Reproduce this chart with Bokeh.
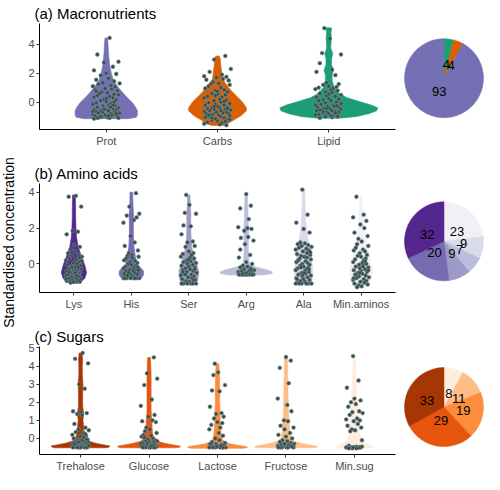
import math
from bokeh.plotting import figure
from bokeh.layouts import row, column
from bokeh.models import Range1d, FixedTicker
from bokeh.embed import file_html
from bokeh.resources import INLINE
from bokeh.core.properties import value

FONT = "Liberation Sans"

# ---------------- data: panel (a) macronutrients ----------------
MACRO_CATS = ["Prot", "Carbs", "Lipid"]
MACRO_COLORS = ["#7570B3", "#D95F02", "#1B9E77"]
MACRO_PIE_CATS = ["Lipid", "Carbs", "Prot"]          # clockwise from 12 o'clock
MACRO_PIE_VALUES = [4, 4, 93]

PROT_LV = [-1.15, -1.05, -0.9, -0.6, -0.3, 0.0, 0.3, 0.6, 1.0, 1.5, 2.0, 2.6, 3.2, 3.7, 4.2, 4.45]
PROT_HW = [0.2, 0.27, 0.28, 0.28, 0.26, 0.23, 0.19, 0.155, 0.11, 0.065, 0.045, 0.03, 0.022, 0.018, 0.015, 0.01]
PROT_Y = [4.45, 3.3, 2.8, 2.75, 2.45, 2.2, 2.0, 1.95, 1.85, 1.65, 1.55, 1.45, 1.35, 1.3, 1.25,
          1.15, 1.1, 1.05, 0.95, 0.9, 0.85, 0.8, 0.7, 0.65, 0.6, 0.5, 0.45, 0.4, 0.35, 0.3, 0.2,
          0.15, 0.1, 0.05, 0.0, -0.05, -0.1, -0.15, -0.2, -0.25, -0.25, -0.3, -0.35, -0.4, -0.4,
          -0.45, -0.5, -0.5, -0.55, -0.6, -0.6, -0.65, -0.7, -0.7, -0.75, -0.75, -0.8, -0.85,
          -0.85, -0.9, -0.9, -0.95, -1.0, -1.0, -1.05, -1.05, -1.1, -1.1, -1.1, -1.15, -0.2, -0.5,
          -0.8, -1.0, 0.25, 0.55, 0.75, -0.35, -0.65, -0.95]

CARBS_LV = [-1.62, -1.55, -1.3, -0.95, -0.6, -0.4, 0.05, 0.5, 1.0, 1.6, 2.5, 3.0, 3.2]
CARBS_HW = [0.05, 0.08, 0.135, 0.21, 0.26, 0.26, 0.22, 0.16, 0.10, 0.045, 0.03, 0.025, 0.015]
CARBS_Y = [3.2, 2.95, 2.3, 2.1, 1.9, 1.8, 1.75, 1.7, 1.6, 1.55, 1.5, 1.4, 1.3, 1.25, 1.2, 1.1,
           1.0, 0.95, 0.85, 0.8, 0.7, 0.6, 0.55, 0.5, 0.4, 0.35, 0.3, 0.2, 0.15, 0.1, 0.0, -0.05,
           -0.1, -0.15, -0.2, -0.25, -0.3, -0.35, -0.4, -0.4, -0.45, -0.5, -0.5, -0.55, -0.6,
           -0.6, -0.65, -0.7, -0.7, -0.75, -0.8, -0.8, -0.85, -0.9, -0.9, -0.95, -1.0, -1.0,
           -1.05, -1.1, -1.15, -1.2, -1.25, -1.3, -1.35, -1.4, -1.45, -1.5, -1.55, -1.6, -0.3,
           -0.6, -0.9, -1.2, 0.45, 0.05, -0.2, 0.75, -0.45, -1.1]

LIPID_LV = [-1.12, -1.0, -0.8, -0.6, -0.4, -0.2, 0.0, 0.3, 0.6, 1.0, 1.5, 1.85, 2.2, 2.6, 3.0,
            3.35, 3.75, 4.1, 4.45, 4.8, 5.1, 5.15]
LIPID_HW = [0.1, 0.25, 0.36, 0.43, 0.44, 0.38, 0.29, 0.165, 0.095, 0.05, 0.03, 0.03, 0.042,
            0.025, 0.025, 0.036, 0.018, 0.02, 0.024, 0.02, 0.026, 0.02]
LIPID_Y = [5.13, 4.4, 3.4, 3.3, 2.7, 2.25, 2.1, 1.87, 1.35, 1.25, 1.2, 1.1, 1.05, 1.0, 0.95,
           0.9, 0.85, 0.8, 0.7, 0.65, 0.6, 0.5, 0.45, 0.4, 0.3, 0.25, 0.2, 0.15, 0.1, 0.05, 0.0,
           -0.05, -0.1, -0.15, -0.2, -0.2, -0.25, -0.3, -0.3, -0.35, -0.4, -0.4, -0.45, -0.5,
           -0.5, -0.55, -0.6, -0.6, -0.65, -0.7, -0.7, -0.75, -0.8, -0.8, -0.85, -0.9, -0.9,
           -0.95, -1.0, -1.0, -1.05, -1.1, -0.1, -0.45, -0.75, 0.35, 0.55, -0.35, -0.65, -0.95,
           0.1, -0.25]

# ---------------- data: panel (b) amino acids ----------------
AMINO_CATS = ["Lys", "His", "Ser", "Arg", "Ala", "Min.aminos"]
AMINO_COLORS = ["#54278F", "#756BB1", "#9E9AC8", "#BCBDDC", "#DADAEB", "#F2F0F7"]
AMINO_PIE_CATS = ["Min.aminos", "Ala", "Arg", "Ser", "His", "Lys"]
AMINO_PIE_VALUES = [23, 9, 7, 9, 20, 32]

LYS_LV = [-1.09, -1.0, -0.8, -0.5, -0.2, 0.0, 0.3, 0.6, 1.0, 1.5, 2.0, 2.6, 3.2, 3.85]
LYS_HW = [0.06, 0.13, 0.19, 0.22, 0.2, 0.18, 0.145, 0.11, 0.07, 0.045, 0.035, 0.03, 0.028, 0.025]
LYS_Y = [3.8, 3.75, 3.2, 1.85, 1.8, 1.65, 1.05, 0.95, 0.8, 0.7, 0.6, 0.5, 0.45, 0.4, 0.3, 0.25,
         0.2, 0.1, 0.05, 0.0, -0.05, -0.1, -0.15, -0.2, -0.25, -0.3, -0.3, -0.35, -0.4, -0.4,
         -0.45, -0.5, -0.5, -0.55, -0.55, -0.6, -0.6, -0.65, -0.7, -0.7, -0.75, -0.8, -0.8,
         -0.85, -0.9, -0.9, -0.95, -1.0, -1.0, -1.05, -0.5, -0.6, -0.7, -0.2, 0.15, -0.45,
         -0.65, -0.85, 0.35, -1.0]

HIS_LV = [-0.8, -0.7, -0.55, -0.4, -0.25, -0.1, 0.0, 0.4, 0.95, 1.6, 2.3, 2.7, 3.2, 3.6, 4.0]
HIS_HW = [0.16, 0.2, 0.215, 0.21, 0.17, 0.12, 0.1, 0.07, 0.045, 0.035, 0.035, 0.04, 0.03, 0.025, 0.025]
HIS_Y = [3.95, 3.2, 2.8, 2.7, 2.45, 2.3, 2.6, 1.55, 1.2, 1.0, 0.75, 0.6, 0.5, 0.45, 0.4, 0.3,
         0.25, 0.2, 0.15, 0.1, 0.05, 0.0, -0.05, -0.1, -0.15, -0.2, -0.25, -0.3, -0.3, -0.35,
         -0.4, -0.4, -0.45, -0.5, -0.5, -0.55, -0.6, -0.6, -0.65, -0.7, -0.7, -0.75, -0.75,
         -0.8, -0.8, -0.8, -0.8, -0.8, -0.8, -0.8, -0.8, -0.2, -0.5, 0.35, -0.65, -0.35]

SER_LV = [-1.12, -0.9, -0.6, -0.4, -0.2, 0.0, 0.25, 0.5, 0.95, 1.5, 2.0, 2.8, 3.4, 3.85]
SER_HW = [0.11, 0.155, 0.17, 0.17, 0.155, 0.135, 0.11, 0.085, 0.05, 0.04, 0.035, 0.035, 0.025, 0.02]
SER_Y = [3.85, 3.3, 2.85, 2.8, 2.15, 2.1, 1.65, 1.25, 1.2, 1.0, 0.95, 0.7, 0.6, 0.55, 0.5, 0.4,
         0.35, 0.3, 0.2, 0.15, 0.1, 0.05, 0.0, -0.05, -0.1, -0.15, -0.2, -0.25, -0.3, -0.35,
         -0.4, -0.45, -0.5, -0.55, -0.6, -0.65, -0.7, -0.75, -0.8, -0.85, -0.9, -0.95, -1.0,
         -1.05, -1.1, -1.1, -1.1, -1.1, -1.1, -1.1, -0.3, -0.6, 0.25, -0.9, -0.45]

ARG_LV = [-0.62, -0.55, -0.45, -0.35, -0.25, -0.15, -0.05, 0.1, 0.5, 1.0, 1.5, 2.0, 2.5, 3.0, 3.5, 3.9]
ARG_HW = [0.3, 0.44, 0.46, 0.38, 0.26, 0.14, 0.08, 0.05, 0.04, 0.035, 0.04, 0.04, 0.03, 0.03, 0.025, 0.02]
ARG_Y = [3.9, 3.25, 3.1, 2.5, 2.05, 2.0, 1.95, 1.85, 1.5, 1.45, 1.3, 1.1, 0.5, 0.35, 0.1, 0.0,
         -0.1, -0.15, -0.2, -0.25, -0.3, -0.35, -0.4, -0.4, -0.45, -0.45, -0.5, -0.5, -0.55,
         -0.55, -0.6, -0.6, -0.6, -0.6, -0.6, -0.6, -0.6, -0.6, -0.6, -0.6, -0.55, -0.5, -0.3, 0.8]

ALA_LV = [-1.12, -0.9, -0.5, 0.0, 0.5, 1.0, 1.5, 2.0, 2.5, 3.0, 3.5, 4.15]
ALA_HW = [0.12, 0.15, 0.16, 0.15, 0.12, 0.09, 0.07, 0.05, 0.035, 0.03, 0.025, 0.02]
ALA_Y = [4.15, 2.75, 2.3, 1.95, 1.75, 1.2, 1.15, 1.1, 1.05, 1.0, 0.95, 0.9, 0.85, 0.8, 0.75,
         0.7, 0.6, 0.55, 0.5, 0.45, 0.4, 0.3, 0.25, 0.2, 0.15, 0.1, 0.05, 0.0, -0.05, -0.1,
         -0.15, -0.2, -0.25, -0.3, -0.35, -0.4, -0.45, -0.5, -0.55, -0.6, -0.65, -0.7, -0.75,
         -0.8, -0.85, -0.9, -0.95, -1.0, -1.05, -1.1, -1.1, -1.1, -1.1, -1.1, -1.1, -0.3, -0.6,
         0.35, -0.85, 0.65, -0.2, -0.5]

MINA_LV = [-1.32, -1.0, -0.5, 0.0, 0.5, 1.0, 1.5, 2.0, 2.5, 3.0, 3.77]
MINA_HW = [0.1, 0.17, 0.2, 0.18, 0.14, 0.1, 0.075, 0.055, 0.04, 0.03, 0.02]
MINA_Y = [3.75, 2.75, 2.6, 2.4, 2.2, 2.0, 1.75, 1.55, 1.4, 1.25, 1.1, 1.0, 0.9, 0.8, 0.75, 0.7,
          0.6, 0.5, 0.45, 0.4, 0.3, 0.25, 0.2, 0.1, 0.05, 0.0, -0.05, -0.1, -0.15, -0.2, -0.25,
          -0.3, -0.35, -0.4, -0.45, -0.5, -0.55, -0.6, -0.65, -0.7, -0.75, -0.8, -0.85, -0.9,
          -0.95, -1.0, -1.05, -1.1, -1.15, -1.2, -1.25, -1.3, -0.35, -0.6, -0.15, -0.8, 0.15, -0.5]

# ---------------- data: panel (c) sugars ----------------
SUGAR_CATS = ["Trehalose", "Glucose", "Lactose", "Fructose", "Min.sug"]
SUGAR_COLORS = ["#A63603", "#E6550D", "#FD8D3C", "#FDBE85", "#FEEDDE"]
SUGAR_PIE_CATS = ["Min.sug", "Fructose", "Lactose", "Glucose", "Trehalose"]
SUGAR_PIE_VALUES = [8, 11, 19, 29, 33]

TREH_LV = [-0.52, -0.47, -0.42, -0.35, -0.25, -0.15, 0.0, 0.3, 0.6, 1.0, 1.4, 1.8, 2.5, 3.0, 3.5, 4.0, 4.4, 4.72]
TREH_HW = [0.38, 0.42, 0.43, 0.33, 0.2, 0.12, 0.075, 0.05, 0.045, 0.035, 0.045, 0.03, 0.03, 0.035, 0.025, 0.025, 0.03, 0.02]
TREH_Y = [4.72, 4.4, 4.15, 3.0, 2.75, 1.5, 1.45, 1.4, 1.35, 1.3, 0.8, 0.6, 0.5, 0.45, 0.35, 0.3,
          0.2, 0.15, 0.1, 0.05, 0.0, -0.05, -0.1, -0.15, -0.15, -0.2, -0.2, -0.25, -0.25, -0.3,
          -0.3, -0.3, -0.35, -0.35, -0.35, -0.4, -0.4, -0.4, -0.4, -0.45, -0.45, -0.45, -0.45,
          -0.45, -0.5, -0.5, -0.5, -0.5, -0.5, -0.5, -0.1, -0.3, 0.25, -0.2, -0.4]

GLUC_LV = [-0.52, -0.47, -0.42, -0.35, -0.25, -0.15, 0.0, 0.3, 0.6, 1.0, 1.5, 2.0, 2.5, 3.0, 3.5, 4.0, 4.47]
GLUC_HW = [0.4, 0.46, 0.45, 0.34, 0.21, 0.12, 0.075, 0.05, 0.045, 0.04, 0.03, 0.03, 0.03, 0.03, 0.03, 0.025, 0.02]
GLUC_Y = [4.48, 3.6, 3.3, 2.95, 2.15, 1.8, 1.3, 1.2, 1.0, 0.95, 0.9, 0.6, 0.5, 0.4, 0.3, 0.2,
          0.15, 0.1, 0.0, -0.05, -0.1, -0.15, -0.2, -0.2, -0.25, -0.3, -0.3, -0.35, -0.35, -0.4,
          -0.4, -0.4, -0.45, -0.45, -0.45, -0.45, -0.5, -0.5, -0.5, -0.5, -0.5, -0.5, -0.3,
          -0.15, 0.05, -0.4]

LACT_LV = [-0.55, -0.5, -0.45, -0.38, -0.3, -0.2, -0.05, 0.3, 0.7, 1.0, 1.4, 2.0, 2.6, 3.0, 3.5, 4.13]
LACT_HW = [0.38, 0.44, 0.42, 0.3, 0.18, 0.11, 0.07, 0.05, 0.045, 0.04, 0.04, 0.03, 0.035, 0.03, 0.03, 0.02]
LACT_Y = [4.13, 3.65, 3.5, 2.95, 2.65, 2.6, 1.75, 1.4, 1.35, 1.2, 1.1, 0.9, 0.85, 0.75, 0.6, 0.5,
          0.3, 0.15, 0.0, -0.1, -0.2, -0.25, -0.3, -0.35, -0.35, -0.4, -0.4, -0.45, -0.45, -0.45,
          -0.5, -0.5, -0.5, -0.5, -0.5, -0.5, -0.5, -0.45, -0.4, -0.3]

FRUC_LV = [-0.52, -0.47, -0.42, -0.35, -0.25, -0.15, 0.0, 0.3, 0.6, 1.0, 1.5, 2.0, 2.5, 3.0, 3.5, 4.0, 4.5]
FRUC_HW = [0.4, 0.46, 0.44, 0.33, 0.2, 0.12, 0.075, 0.055, 0.05, 0.045, 0.035, 0.035, 0.03, 0.03, 0.025, 0.025, 0.02]
FRUC_Y = [4.5, 4.3, 3.9, 3.05, 2.2, 1.85, 1.5, 1.0, 0.95, 0.7, 0.6, 0.5, 0.3, 0.2, 0.1, 0.0,
          -0.1, -0.15, -0.2, -0.25, -0.3, -0.3, -0.35, -0.35, -0.4, -0.4, -0.4, -0.45, -0.45,
          -0.45, -0.45, -0.5, -0.5, -0.5, -0.5, -0.5, -0.5, -0.4, -0.3, -0.45]

MINS_LV = [-0.55, -0.5, -0.4, -0.25, -0.1, 0.2, 0.6, 1.0, 1.5, 2.0, 2.5, 3.0, 3.5, 4.0, 4.55]
MINS_HW = [0.2, 0.26, 0.24, 0.16, 0.11, 0.08, 0.07, 0.07, 0.06, 0.05, 0.035, 0.03, 0.025, 0.02, 0.015]
MINS_Y = [4.55, 3.2, 2.8, 2.2, 2.1, 2.0, 1.9, 1.75, 1.5, 1.45, 1.4, 1.3, 1.1, 1.05, 1.0, 0.95,
          0.8, 0.7, 0.6, 0.5, 0.45, 0.4, -0.1, -0.4, -0.45, -0.5, -0.5, -0.5, -0.5, -0.5, -0.5,
          -0.5, -0.5, -0.5, -0.5, -0.5, -0.5, -0.55, -0.55, -0.55, -0.45, -0.5]

# jitter offsets (category units), fixed list
JITTER = [0.03, -0.08, 0.11, -0.02, 0.06, -0.11, 0.0, 0.09, -0.05, 0.02, -0.09, 0.07, -0.03,
          0.12, -0.07, 0.04, -0.12, 0.08, -0.01, 0.05, -0.1, 0.1, -0.04, 0.01, -0.06, 0.11,
          -0.08, 0.03, -0.11, 0.06, -0.02, 0.09, -0.05, 0.0, 0.07, -0.09, 0.04, -0.12, 0.02,
          0.08, -0.03]

Y_LABEL = "Standardised concentration"

# ---------------- drawing ----------------
VW = 387          # violin figure width
PW = 81           # pie figure width
PIE_R = 39.5


def style_axis(ax):
    ax.axis_line_color = "black"
    ax.axis_line_width = 1
    ax.major_tick_line_color = "#333333"
    ax.major_tick_out = 3
    ax.major_tick_in = 0
    ax.minor_tick_line_color = None
    ax.major_label_text_font = FONT
    ax.major_label_text_font_size = "11px"
    ax.major_label_text_color = "#4D4D4D"
    ax.major_label_standoff = 2


def violin_panel(title, cats, colors, profiles, samples, yrange, yticks, jfac,
                 height, btop, bbot):
    n = len(cats)
    p = figure(width=VW, height=height, x_range=Range1d(0.4, n + 0.6),
               y_range=Range1d(*yrange), output_backend="svg", toolbar_location=None,
               min_border_left=23, min_border_right=8, min_border_top=btop,
               min_border_bottom=bbot)
    p.outline_line_color = None
    p.xgrid.visible = False
    p.ygrid.visible = False
    p.background_fill_color = "white"
    p.border_fill_color = "white"
    style_axis(p.xaxis[0])
    style_axis(p.yaxis[0])
    p.xaxis[0].ticker = FixedTicker(ticks=list(range(1, n + 1)))
    p.xaxis[0].major_label_overrides = {i + 1: c for i, c in enumerate(cats)}
    p.yaxis[0].ticker = FixedTicker(ticks=yticks)
    p.title.text = title
    p.title.text_font = FONT
    p.title.text_font_size = "15px"
    p.title.text_font_style = "normal"
    p.title.text_color = "black"
    p.title.align = "left"
    p.title.offset = -5
    p.title.standoff = 4

    for k, ((lv, hw), ys, col) in enumerate(zip(profiles, samples, colors)):
        c = k + 1
        xs = [c + w for w in hw] + [c - w for w in reversed(hw)]
        yy = list(lv) + list(reversed(lv))
        p.patch(xs, yy, fill_color=col, line_color=col, line_width=0.6)
    for k, ys in enumerate(samples):
        c = k + 1
        m = len(JITTER)
        px = [c + jfac * JITTER[(i + 11 * k) % m] for i in range(len(ys))]
        p.scatter(px, ys, size=3.8, marker="circle", fill_color="#2F4F4F",
                  line_color="#7E8C8C", line_width=0.6)
    return p


def pie_panel(pie_cats, pie_vals, cats, colors, height, cy_from_top):
    cmap = dict(zip(cats, colors))
    p = figure(width=PW, height=height, x_range=Range1d(-PW / 2, PW / 2),
               y_range=Range1d(-(height - cy_from_top), cy_from_top),
               output_backend="svg", toolbar_location=None,
               x_axis_location=None, y_axis_location=None, min_border=0)
    p.outline_line_color = None
    p.xgrid.visible = False
    p.ygrid.visible = False
    total = float(sum(pie_vals))
    starts, ends, fills, lx, ly, txt = [], [], [], [], [], []
    acc = 0.0
    for cat, v in zip(pie_cats, pie_vals):
        f0 = acc / total
        acc += v
        f1 = acc / total
        a0 = math.pi / 2 - 2 * math.pi * f0
        a1 = math.pi / 2 - 2 * math.pi * f1
        starts.append(a0)
        ends.append(a1)
        fills.append(cmap[cat])
        am = (a0 + a1) / 2
        lx.append(0.5 * PIE_R * math.cos(am))
        ly.append(0.5 * PIE_R * math.sin(am))
        txt.append(str(v))
    p.wedge(x=[0] * len(starts), y=[0] * len(starts), radius=PIE_R, start_angle=starts,
            end_angle=ends, direction="clock", fill_color=fills, line_color=fills,
            line_width=0.5)
    p.text(x=lx, y=ly, text=txt, text_font=value(FONT), text_font_size="13px",
           text_align="center", text_baseline="middle", text_color="black")
    return p


HA, HB, HC = 156, 163, 155

va = violin_panel("(a) Macronutrients", MACRO_CATS, MACRO_COLORS,
                  [(PROT_LV, PROT_HW), (CARBS_LV, CARBS_HW), (LIPID_LV, LIPID_HW)],
                  [PROT_Y, CARBS_Y, LIPID_Y], (-1.9, 5.45), [0, 2, 4], 1.0, HA, 22, 27)
vb = violin_panel("(b) Amino acids", AMINO_CATS, AMINO_COLORS,
                  [(LYS_LV, LYS_HW), (HIS_LV, HIS_HW), (SER_LV, SER_HW),
                   (ARG_LV, ARG_HW), (ALA_LV, ALA_HW), (MINA_LV, MINA_HW)],
                  [LYS_Y, HIS_Y, SER_Y, ARG_Y, ALA_Y, MINA_Y], (-1.6, 4.49), [0, 2, 4],
                  1.15, HB, 27, 27)
vc = violin_panel("(c) Sugars", SUGAR_CATS, SUGAR_COLORS,
                  [(TREH_LV, TREH_HW), (GLUC_LV, GLUC_HW), (LACT_LV, LACT_HW),
                   (FRUC_LV, FRUC_HW), (MINS_LV, MINS_HW)],
                  [TREH_Y, GLUC_Y, LACT_Y, FRUC_Y, MINS_Y], (-0.89, 5.08),
                  [0, 1, 2, 3, 4, 5], 1.0, HC, 27, 18)

pa = pie_panel(MACRO_PIE_CATS, MACRO_PIE_VALUES, MACRO_CATS, MACRO_COLORS, HA, 80.5)
pb = pie_panel(AMINO_PIE_CATS, AMINO_PIE_VALUES, AMINO_CATS, AMINO_COLORS, HB, 86.5)
pc = pie_panel(SUGAR_PIE_CATS, SUGAR_PIE_VALUES, SUGAR_CATS, SUGAR_COLORS, HC, 87)

TOTAL_H = HA + HB + HC
lab = figure(width=16, height=TOTAL_H, x_range=Range1d(0, 16), y_range=Range1d(0, TOTAL_H),
             output_backend="svg", toolbar_location=None, x_axis_location=None,
             y_axis_location=None, min_border=0)
lab.outline_line_color = None
lab.xgrid.visible = False
lab.ygrid.visible = False
lab.text(x=[8], y=[TOTAL_H - (250 - 8)], text=[Y_LABEL], angle=math.pi / 2,
         text_font=value(FONT), text_font_size="14px", text_align="center",
         text_baseline="middle", text_color="black")

layout = row(lab, column(row(va, pa), row(vb, pb), row(vc, pc)))

open("out.html", "w").write(file_html(layout, INLINE))
